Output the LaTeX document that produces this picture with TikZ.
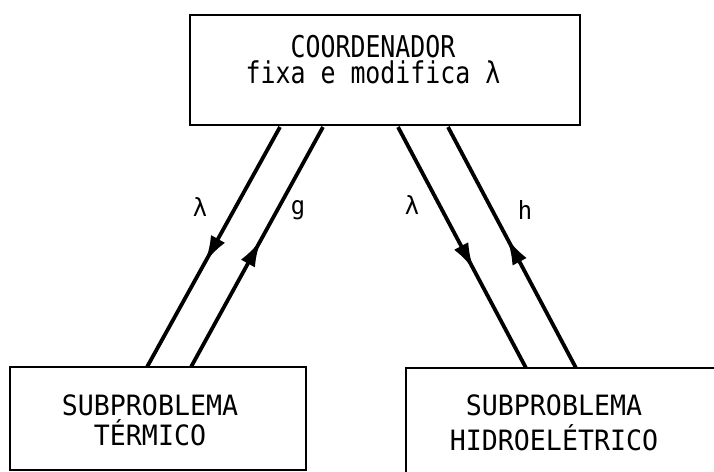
\documentclass[tikz,border=0pt]{standalone}
\usepackage{fontspec}
\newfontfamily\typefont[FakeStretch=0.83]{DejaVu Sans Mono}
\newfontfamily\typefontb[FakeStretch=0.95]{DejaVu Sans Mono}
\usetikzlibrary{arrows.meta,decorations.markings}
\tikzset{
  box/.style={draw, line width=1.8pt, inner sep=0pt},
  txt/.style={inner sep=0pt, align=center},
  conn/.style={line width=3.8pt},
  midarrow/.style={postaction={decorate, decoration={markings,
      mark=at position #1 with {\arrow{Latex[length=27pt,width=16pt]}}}}},
  lbl/.style={font=\typefontb\fontsize{25}{25}\selectfont, inner sep=0pt}
}
\begin{document}
\begin{tikzpicture}[x=1pt,y=-1pt]
\clip (0,0) rectangle (714,471);
\useasboundingbox (0,0) rectangle (714,471);
% boxes
\node[box, minimum width=390pt, minimum height=110pt] (coord) at (385,70) {};
\node[box, minimum width=296pt, minimum height=103pt] (term) at (158,418.5) {};
\node[box, minimum width=314pt, minimum height=150pt] (hidro) at (563,443) {};
% texts
\node[txt, font=\typefont\fontsize{30}{26}\selectfont] (coordtxt) at (373,60) {COORDENADOR\\fixa e modifica λ};
\node[txt, font=\typefontb\fontsize{28}{30}\selectfont] (termtxt) at (150,420) {SUBPROBLEMA\\TÉRMICO};
\node[txt, font=\typefontb\fontsize{28}{35}\selectfont] (hidrotxt) at (554,423) {SUBPROBLEMA\\HIDROELÉTRICO};
% connector end points
\coordinate (a1) at (280,127);
\coordinate (a2) at (147,367);
\coordinate (b1) at (323,127);
\coordinate (b2) at (191,367);
\coordinate (c1) at (398,127);
\coordinate (c2) at (526,368);
\coordinate (d1) at (448,127);
\coordinate (d2) at (576,368);
% connectors
\draw[conn, midarrow=0.565] (a1) -- (a2);
\draw[conn, midarrow=0.53] (b2) -- (b1);
\draw[conn, midarrow=0.593] (c1) -- (c2);
\draw[conn, midarrow=0.54] (d2) -- (d1);
% labels
\node[lbl] (l1) at (200,207) {λ};
\node[lbl] (l2) at (298,210) {g};
\node[lbl] (l3) at (412,205) {λ};
\node[lbl] (l4) at (525,210) {h};
\end{tikzpicture}
\end{document}
